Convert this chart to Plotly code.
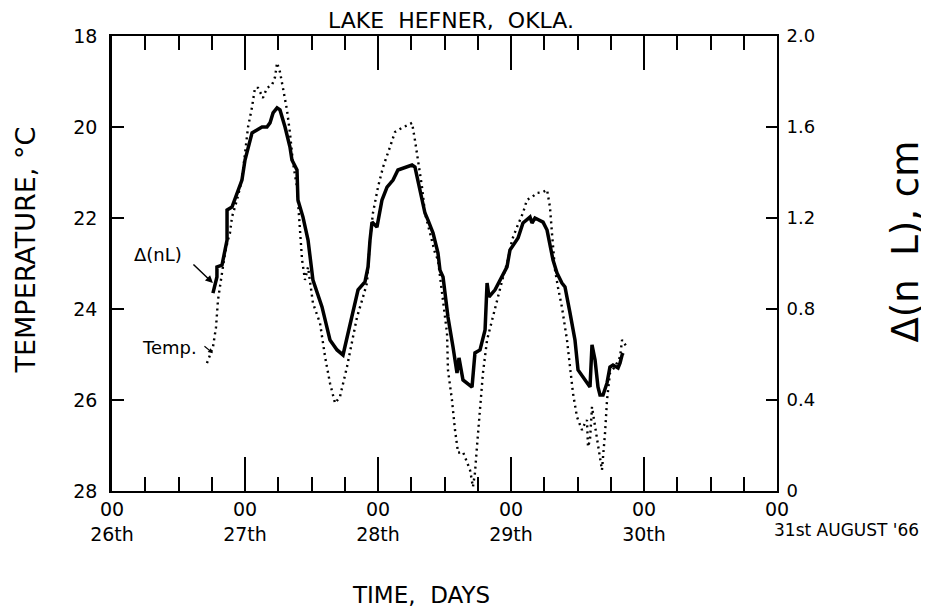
import plotly.graph_objects as go

# ---- data (day of August 1966, values) ----
dnl_day = [26.759, 26.789, 26.789, 26.827, 26.865, 26.865, 26.902, 26.940, 26.977, 27.000,
           27.053, 27.090, 27.128, 27.165, 27.188, 27.211, 27.241, 27.263, 27.301, 27.338,
           27.353, 27.391, 27.398, 27.436, 27.474, 27.511, 27.579, 27.639, 27.692, 27.737,
           27.774, 27.812, 27.850, 27.902, 27.925, 27.940, 27.955, 27.992, 28.030, 28.068,
           28.113, 28.150, 28.203, 28.256, 28.278, 28.301, 28.331, 28.353, 28.376, 28.414,
           28.451, 28.466, 28.489, 28.526, 28.564, 28.594, 28.609, 28.632, 28.639, 28.707,
           28.729, 28.767, 28.805, 28.820, 28.835, 28.880, 28.932, 28.970, 28.992, 29.008,
           29.053, 29.090, 29.143, 29.158, 29.180, 29.241, 29.271, 29.316, 29.346, 29.383,
           29.406, 29.444, 29.481, 29.504, 29.541, 29.594, 29.609, 29.632, 29.654, 29.669,
           29.692, 29.722, 29.744, 29.767, 29.805, 29.820, 29.835, 29.842]
dnl_cm = [0.870, 0.941, 0.985, 0.993, 1.103, 1.235, 1.248, 1.310, 1.367, 1.455,
          1.574, 1.587, 1.600, 1.600, 1.618, 1.662, 1.684, 1.675, 1.600, 1.512,
          1.455, 1.411, 1.279, 1.204, 1.103, 0.927, 0.809, 0.664, 0.620, 0.598,
          0.695, 0.796, 0.884, 0.919, 0.985, 1.103, 1.182, 1.160, 1.279, 1.336,
          1.367, 1.411, 1.420, 1.433, 1.424, 1.367, 1.292, 1.222, 1.191, 1.134,
          1.046, 0.971, 0.941, 0.765, 0.633, 0.519, 0.585, 0.519, 0.488, 0.457,
          0.607, 0.620, 0.708, 0.914, 0.853, 0.884, 0.941, 0.985, 1.059, 1.073,
          1.112, 1.178, 1.204, 1.178, 1.200, 1.182, 1.147, 1.015, 0.958, 0.914,
          0.897, 0.782, 0.664, 0.532, 0.501, 0.457, 0.642, 0.576, 0.457, 0.422,
          0.422, 0.475, 0.545, 0.554, 0.541, 0.563, 0.598, 0.607]

temp_day = [26.714, 26.759, 26.782, 26.797, 26.827, 26.850, 26.872, 26.887, 26.902, 26.940,
            26.977, 27.000, 27.023, 27.053, 27.075, 27.098, 27.135, 27.165, 27.203, 27.226,
            27.241, 27.263, 27.286, 27.316, 27.338, 27.361, 27.391, 27.414, 27.429, 27.451,
            27.474, 27.511, 27.564, 27.602, 27.639, 27.677, 27.714, 27.767, 27.805, 27.842,
            27.887, 27.917, 27.940, 27.962, 28.000, 28.038, 28.090, 28.128, 28.180, 28.226,
            28.256, 28.278, 28.301, 28.331, 28.353, 28.391, 28.429, 28.451, 28.481, 28.519,
            28.526, 28.556, 28.579, 28.602, 28.639, 28.669, 28.692, 28.714, 28.729, 28.744,
            28.767, 28.789, 28.820, 28.857, 28.895, 28.940, 28.977, 29.008, 29.045, 29.090,
            29.120, 29.158, 29.195, 29.241, 29.271, 29.293, 29.308, 29.331, 29.353, 29.383,
            29.421, 29.444, 29.466, 29.496, 29.534, 29.556, 29.571, 29.579, 29.594, 29.609,
            29.632, 29.654, 29.684, 29.692, 29.707, 29.722, 29.744, 29.782, 29.820, 29.835,
            29.872]
temp_c = [25.19, 24.84, 24.40, 23.80, 23.21, 22.77, 22.48, 22.33, 21.98, 21.60,
          21.16, 20.57, 20.00, 19.56, 19.14, 19.14, 19.36, 19.14, 19.08, 18.90,
          18.59, 18.79, 19.19, 19.63, 20.13, 20.79, 21.32, 22.20, 22.92, 23.36,
          23.08, 23.87, 24.31, 25.05, 25.63, 26.07, 25.93, 25.27, 24.68, 24.18,
          23.74, 23.43, 22.48, 21.89, 21.32, 20.88, 20.44, 20.11, 20.02, 19.96,
          19.91, 20.29, 20.73, 21.32, 21.89, 22.33, 22.77, 22.92, 23.58, 24.53,
          25.34, 26.00, 26.66, 27.16, 27.14, 27.38, 27.54, 27.91, 27.60, 27.03,
          26.15, 25.41, 24.68, 24.24, 23.80, 23.30, 22.92, 22.48, 22.20, 21.89,
          21.60, 21.54, 21.45, 21.43, 21.38, 21.76, 22.33, 23.14, 23.52, 23.96,
          24.68, 25.27, 25.85, 26.37, 26.66, 26.51, 26.44, 27.03, 26.88, 26.15,
          26.59, 27.03, 27.54, 27.25, 26.73, 26.00, 25.41, 25.27, 25.05, 24.68,
          24.84]

x_tickvals = [26, 27, 28, 29, 30, 31]
x_ticktext = ["00<br>26th", "00<br>27th", "00<br>28th", "00<br>29th", "00<br>30th", "00<br> "]
last_day_label = "31st AUGUST '66"
temp_ticks = [18, 20, 22, 24, 26, 28]
dnl_ticks = [0, 0.4, 0.8, 1.2, 1.6, 2.0]
dnl_ticktext = ["0", "0.4", "0.8", "1.2", "1.6", "2.0"]

FONT = "DejaVu Sans"

fig = go.Figure()
fig.add_trace(go.Scatter(x=temp_day, y=temp_c, mode="lines", yaxis="y",
                         line=dict(color="black", width=2.4, dash="2px,4px"),
                         showlegend=False, hoverinfo="skip"))
fig.add_trace(go.Scatter(x=dnl_day, y=dnl_cm, mode="lines", yaxis="y2",
                         line=dict(color="black", width=3.5),
                         showlegend=False, hoverinfo="skip"))

# page body has an 8px margin, so the figure is sized/placed to compensate
fig.update_layout(
    width=921, height=606,
    margin=dict(l=104, r=152, t=28, b=123, autoexpand=False),
    paper_bgcolor="white", plot_bgcolor="white",
    font=dict(family=FONT, color="black"),
    xaxis=dict(range=[26, 31], tickmode="array", tickvals=x_tickvals, ticktext=x_ticktext,
               ticks="inside", ticklen=34, tickwidth=1.5, tickcolor="black",
               showline=True, linecolor="black", linewidth=2, mirror="ticks",
               showgrid=False, zeroline=False,
               tickfont=dict(size=19, family=FONT),
               minor=dict(dtick=0.25, tick0=26, ticks="inside", ticklen=14,
                          tickwidth=1.5, tickcolor="black", showgrid=False)),
    yaxis=dict(range=[28, 18], tickmode="array", tickvals=temp_ticks,
               ticks="inside", ticklen=12, tickwidth=1.5, tickcolor="black",
               showline=True, linecolor="black", linewidth=2.5,
               showgrid=False, zeroline=False,
               tickfont=dict(size=19, family=FONT), ticklabelstandoff=8),
    yaxis2=dict(range=[0, 2.0], overlaying="y", side="right", tickmode="array",
                tickvals=dnl_ticks, ticktext=dnl_ticktext,
                ticks="inside", ticklen=11, tickwidth=1.5, tickcolor="black",
                showline=True, linecolor="black", linewidth=2,
                showgrid=False, zeroline=False,
                tickfont=dict(size=18, family=FONT), ticklabelstandoff=4),
)

fig.add_annotation(text="LAKE  HEFNER,  OKLA.", xref="paper", yref="paper",
                   x=0.51, y=1.0, xanchor="center", yanchor="bottom", yshift=1,
                   showarrow=False, font=dict(size=22, family=FONT))
fig.add_annotation(text="TIME,  DAYS", xref="paper", yref="paper",
                   x=0.465, y=0, xanchor="center", yanchor="middle", yshift=-104,
                   showarrow=False, font=dict(size=23, family=FONT))
fig.add_annotation(text="TEMPERATURE, °C", xref="paper", yref="paper",
                   x=0, y=0.5, xanchor="center", yanchor="middle", textangle=-90,
                   xshift=-87, yshift=13, showarrow=False, font=dict(size=27, family=FONT))
fig.add_annotation(text="Δ(n  L), cm", xref="paper", yref="paper",
                   x=1, y=0.5, xanchor="center", yanchor="middle", textangle=-90,
                   xshift=128, yshift=22, showarrow=False, font=dict(size=37, family=FONT))
fig.add_annotation(text=last_day_label, xref="x", yref="paper", x=31, y=0,
                   xanchor="left", yanchor="top", xshift=-5, yshift=-27,
                   showarrow=False, font=dict(size=17, family=FONT))
fig.add_annotation(text="Δ(nL)", xref="x", yref="y", x=26.346, y=22.81,
                   showarrow=False, font=dict(size=18, family=FONT))
fig.add_annotation(text="", xref="x", yref="y", x=26.759, y=23.43, ax=-21, ay=-20,
                   showarrow=True, arrowhead=2, arrowsize=1, arrowwidth=1.5, arrowcolor="black")
fig.add_annotation(text="Temp.", xref="x", yref="y", x=26.429, y=24.84,
                   showarrow=False, font=dict(size=18, family=FONT))
fig.add_annotation(text="", xref="x", yref="y", x=26.759, y=24.97, ax=-10, ay=-8,
                   showarrow=True, arrowhead=2, arrowsize=0.8, arrowwidth=1.2, arrowcolor="black")

fig.write_html("out.html")
